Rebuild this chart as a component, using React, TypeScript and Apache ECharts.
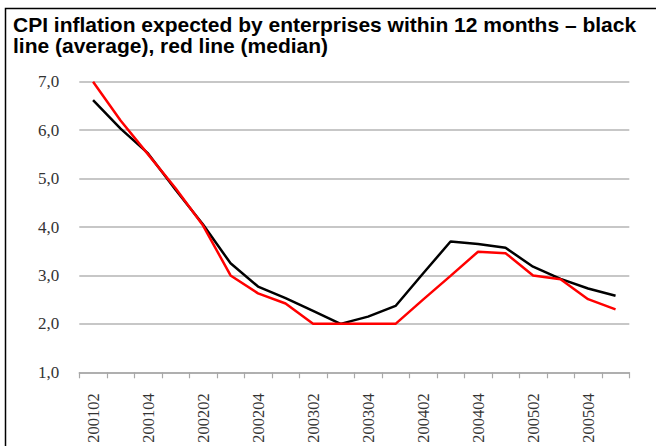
import React, { useEffect, useRef } from "react";
import * as echarts from "echarts";

const categories = [
  "200102", "200103", "200104",
  "200201", "200202", "200203", "200204",
  "200301", "200302", "200303", "200304",
  "200401", "200402", "200403", "200404",
  "200501", "200502", "200503", "200504",
  "200601",
];

const averageValues = [6.62, 6.03, 5.52, 4.77, 4.05, 3.25, 2.77, 2.53, 2.27, 2.0, 2.15, 2.37, 3.04, 3.7, 3.65, 3.57, 3.18, 2.93, 2.73, 2.58];
const medianValues = [7.0, 6.2, 5.5, 4.8, 4.03, 3.0, 2.63, 2.42, 2.0, 2.0, 2.0, 2.0, 2.5, 2.99, 3.49, 3.46, 3.0, 2.92, 2.51, 2.3];

const titleText = "CPI inflation expected by enterprises within 12 months \u2013 black\nline (average), red line (median)";

export default function App() {
  const ref = useRef<HTMLDivElement>(null);

  useEffect(() => {
    if (!ref.current) return;
    const chart = echarts.init(ref.current, null, { renderer: "svg" });
    chart.setOption({
      animation: false,
      backgroundColor: "#ffffff",
      title: {
        text: titleText,
        left: 13,
        top: 14,
        padding: 0,
        textStyle: {
          fontFamily: "Liberation Sans, Arial, sans-serif",
          fontSize: 21,
          fontWeight: "bold",
          lineHeight: 21,
          color: "#000000",
        },
      },
      graphic: [
        {
          type: "polyline",
          shape: { points: [[5.5, 446], [5.5, 8.5], [656, 8.5]] },
          style: { stroke: "#000000", lineWidth: 1.5, fill: "none" },
          silent: true,
        },
      ],
      grid: {
        left: 79.3,
        right: 26.7,
        top: 81.7,
        bottom: 73.7,
        containLabel: false,
        outerBoundsMode: "none",
      },
      xAxis: {
        type: "category",
        data: categories,
        boundaryGap: true,
        axisLine: { show: true, lineStyle: { color: "#a8a8a8", width: 1.5 } },
        axisTick: { show: true, interval: 0, length: 6, lineStyle: { color: "#a8a8a8", width: 1.2 } },
        axisLabel: {
          interval: 1,
          rotate: 90,
          margin: 21,
          padding: [0, 0, 10, 0],
          fontFamily: "Liberation Serif, Times New Roman, serif",
          fontSize: 16.5,
          color: "#333333",
        },
        splitLine: { show: false },
      },
      yAxis: {
        type: "value",
        min: 1,
        max: 7,
        interval: 1,
        axisLine: { show: false },
        axisTick: { show: false },
        axisLabel: {
          margin: 20,
          fontFamily: "Liberation Serif, Times New Roman, serif",
          fontSize: 17,
          color: "#333333",
          formatter: (v: number) => v.toFixed(1).replace(".", ","),
        },
        splitLine: { show: true, lineStyle: { color: "#b4b4b4", width: 1.5 } },
      },
      series: [
        {
          name: "average",
          type: "line",
          data: averageValues,
          symbol: "none",
          lineStyle: { color: "#000000", width: 2.5 },
          z: 2,
        },
        {
          name: "median",
          type: "line",
          data: medianValues,
          symbol: "none",
          lineStyle: { color: "#ff0000", width: 2.5 },
          z: 3,
        },
      ],
    });
    return () => chart.dispose();
  }, []);

  return (
    <div
      ref={ref}
      style={{ position: "fixed", left: 0, top: 0, width: 656, height: 446 }}
    />
  );
}
